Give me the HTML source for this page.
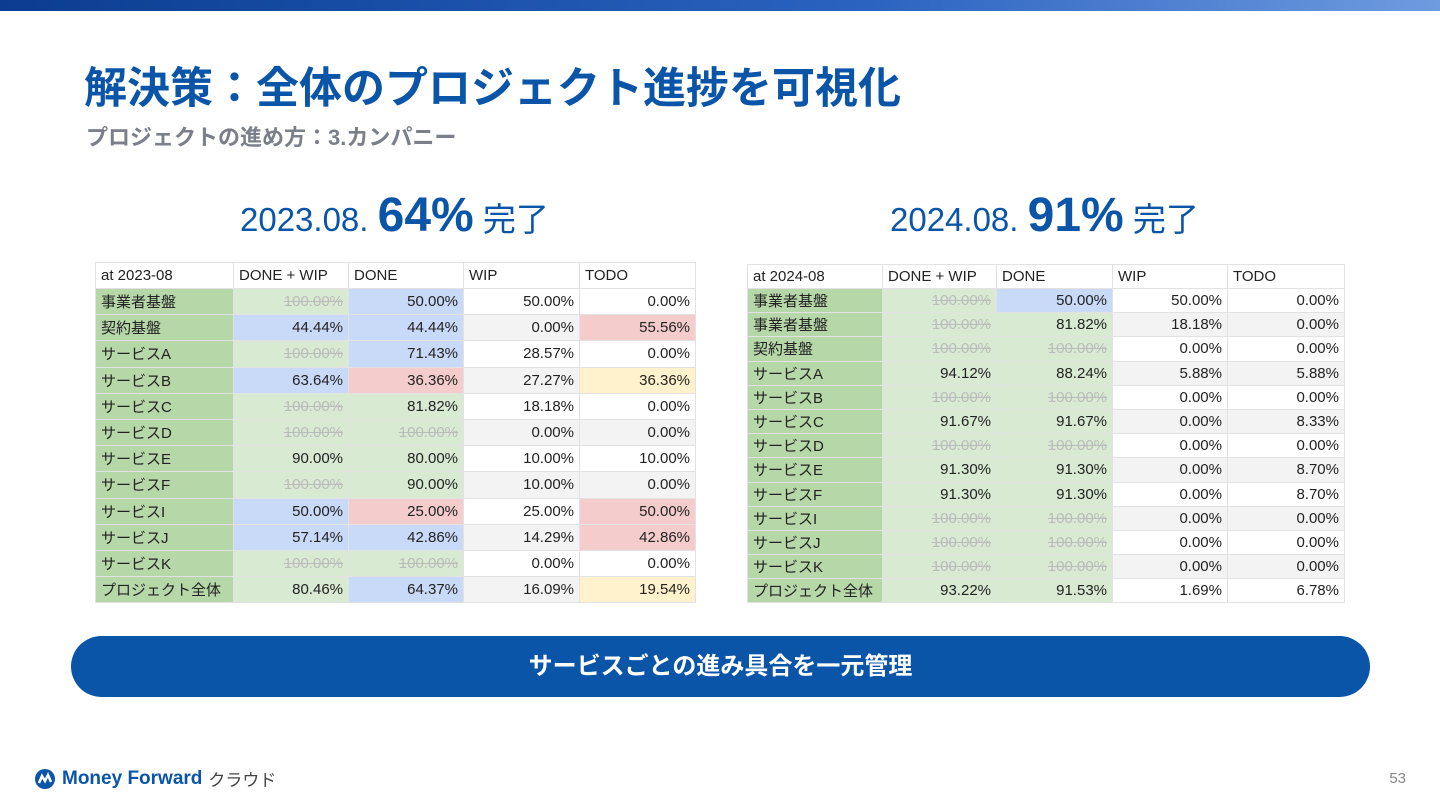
<!DOCTYPE html>
<html><head><meta charset="utf-8">
<style>
*{margin:0;padding:0;box-sizing:border-box}
body{width:1440px;height:810px;background:#fff;position:relative;overflow:hidden;font-family:"Liberation Sans","Noto Sans CJK JP",sans-serif}
.bar{position:absolute;left:0;top:0;width:1440px;height:11px;background:linear-gradient(90deg,#0a3d91,#2a63c0 60%,#6f9be0)}
h1{position:absolute;left:84px;top:54px;font-size:43px;font-weight:700;color:#0b55a8;letter-spacing:0}
.sub{position:absolute;left:86px;top:120px;font-size:22px;font-weight:700;color:#7a7f89}
.big{position:absolute;top:188px;font-size:33px;color:#0b55a8;white-space:nowrap}
.big b{font-size:48px;font-weight:700}
table{position:absolute;border-collapse:collapse;font-size:15px;color:#222;table-layout:fixed}
td{border:1px solid #e2e2e2;padding:0 5px;text-align:right;white-space:nowrap;overflow:hidden}
td.l{text-align:left}
.s{color:#bbb;text-decoration:line-through}
.btn{position:absolute;left:71px;top:636px;width:1299px;height:61px;border-radius:31px;background:#0b55a8;color:#fff;font-size:24px;font-weight:700;text-align:center;line-height:61px}
.logo{position:absolute;left:34px;top:766px;font-size:19px;font-weight:700;color:#0b55a8;display:flex;align-items:center;gap:6px}
.logo span{color:#444;font-weight:400;font-size:17px}
.pg{position:absolute;right:34px;top:770px;font-size:15px;color:#888}
</style></head><body>
<div class="bar"></div>
<h1>解決策：全体のプロジェクト進捗を可視化</h1>
<div class="sub">プロジェクトの進め方：3.カンパニー</div>
<div class="big" style="left:240px">2023.08. <b>64%</b> 完了</div>
<div class="big" style="left:890px">2024.08. <b>91%</b> 完了</div>
<table id="t1" style="left:95px;top:262px;width:600px"></table>
<table id="t2" style="left:747px;top:264px;width:597px"></table>
<div class="btn">サービスごとの進み具合を一元管理</div>
<div class="logo"><svg width="22" height="22" viewBox="0 0 22 22"><circle cx="11" cy="11" r="10" fill="#0b55a8"/><path d="M5 15 L8 8 L11 13 L14 7 L17 14" stroke="#fff" stroke-width="2.5" fill="none"/></svg>Money Forward <span>クラウド</span></div>
<div class="pg">53</div>
<script>
const C={G:'#b6d7a8',g:'#d9ead3',b:'#c9daf8',r:'#f4cccc',y:'#fff2cc',w:'#fff',q:'#f3f3f3'};
const heads1=['at 2023-08','DONE + WIP','DONE','WIP','TODO'];
const labels1=['事業者基盤','契約基盤','サービスA','サービスB','サービスC','サービスD','サービスE','サービスF','サービスI','サービスJ','サービスK','プロジェクト全体'];
const doneWip1=['100.00%','44.44%','100.00%','63.64%','100.00%','100.00%','90.00%','100.00%','50.00%','57.14%','100.00%','80.46%'];
const done1=['50.00%','44.44%','71.43%','36.36%','81.82%','100.00%','80.00%','90.00%','25.00%','42.86%','100.00%','64.37%'];
const wip1=['50.00%','0.00%','28.57%','27.27%','18.18%','0.00%','10.00%','10.00%','25.00%','14.29%','0.00%','16.09%'];
const todo1=['0.00%','55.56%','0.00%','36.36%','0.00%','0.00%','10.00%','0.00%','50.00%','42.86%','0.00%','19.54%'];
const col1=['gbww','bbwr','gbww','brwy','ggww','ggww','ggww','ggww','brwr','bbwr','ggww','gbwy'];
const heads2=['at 2024-08','DONE + WIP','DONE','WIP','TODO'];
const labels2=['事業者基盤','事業者基盤','契約基盤','サービスA','サービスB','サービスC','サービスD','サービスE','サービスF','サービスI','サービスJ','サービスK','プロジェクト全体'];
const doneWip2=['100.00%','100.00%','100.00%','94.12%','100.00%','91.67%','100.00%','91.30%','91.30%','100.00%','100.00%','100.00%','93.22%'];
const done2=['50.00%','81.82%','100.00%','88.24%','100.00%','91.67%','100.00%','91.30%','91.30%','100.00%','100.00%','100.00%','91.53%'];
const wip2=['50.00%','18.18%','0.00%','5.88%','0.00%','0.00%','0.00%','0.00%','0.00%','0.00%','0.00%','0.00%','1.69%'];
const todo2=['0.00%','0.00%','0.00%','5.88%','0.00%','8.33%','0.00%','8.70%','8.70%','0.00%','0.00%','0.00%','6.78%'];
const col2=['gbww','ggww','ggww','ggww','ggww','ggww','ggww','ggww','ggww','ggww','ggww','ggww','ggww'];
function build(id,heads,labels,cols,colors,rowH,headH,widths){
  const t=document.getElementById(id);
  const cg=document.createElement('colgroup');
  widths.forEach(w=>{const c=document.createElement('col');c.style.width=w+'px';cg.appendChild(c);});
  t.appendChild(cg);
  const hr=document.createElement('tr');hr.style.height=headH+'px';
  
  
  heads.forEach(h=>{const td=document.createElement('td');td.className='l';td.textContent=h;
    
    
    hr.appendChild(td);});
  t.appendChild(hr);
  labels.forEach((lab,i)=>{
    const tr=document.createElement('tr');tr.style.height=rowH+'px';
    
    
    const l=document.createElement('td');l.className='l';l.textContent=lab;l.style.background=C.G;
    
    
    tr.appendChild(l);
    cols.forEach((arr,j)=>{
      const td=document.createElement('td');
      
      
      const v=arr[i];
      if(v==='100.00%'&&j<2){const s=document.createElement('span');s.className='s';s.textContent=v;td.appendChild(s);}
      else td.textContent=v;
      let c=colors[i][j];
      if(c==='w'&&i%2===1)c='q';
      td.style.background=C[c];
      tr.appendChild(td);
    });
    t.appendChild(tr);
  });
}
build('t1',heads1,labels1,[doneWip1,done1,wip1,todo1],col1,26.2,26,[138,115,115,116,116]);
build('t2',heads2,labels2,[doneWip2,done2,wip2,todo2],col2,24.2,24,[135,114,116,115,117]);
</script>
</body></html>
